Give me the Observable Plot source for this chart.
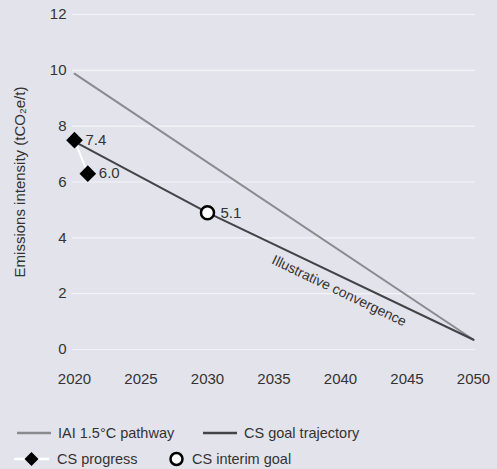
<!DOCTYPE html>
<html><head><meta charset="utf-8">
<script src="https://cdn.jsdelivr.net/npm/d3@7"></script>
<script src="https://cdn.jsdelivr.net/npm/@observablehq/plot@0.6"></script>
<style>
body{margin:0;background:#e3e3eb;font-family:"Liberation Sans",Arial,sans-serif;color:#333;}
#wrap{width:497px;height:469px;background:#e3e3eb;position:relative;}
.leg{position:absolute;font-size:14.5px;color:#333;display:flex;align-items:center;white-space:nowrap;}
.leg svg{margin-right:6px;}
</style></head>
<body><div id="wrap"></div>
<script>
const iaiYears = [2020, 2050];
const iaiValues = [9.88, 0.35];
const goalYears = [2020, 2030, 2050];
const goalValues = [7.45, 4.9, 0.35];
const progressYears = [2020, 2021];
const progressValues = [7.5, 6.3];
const progressLabels = ["7.4", "6.0"];
const interimYears = [2030];
const interimValues = [4.9];
const interimLabels = ["5.1"];
const xTicks = [2020, 2025, 2030, 2035, 2040, 2045, 2050];
const yTicks = [0, 2, 4, 6, 8, 10, 12];

const iai = iaiYears.map((x,i)=>({x, y: iaiValues[i]}));
const goal = goalYears.map((x,i)=>({x, y: goalValues[i]}));
const prog = progressYears.map((x,i)=>({x, y: progressValues[i], t: progressLabels[i]}));
const interim = interimYears.map((x,i)=>({x, y: interimValues[i], t: interimLabels[i]}));
const conv = [{x: 2039.9, y: 2.1, t: "Illustrative convergence"}];

const plot = Plot.plot({
  width: 497, height: 400,
  marginLeft: 72, marginRight: 22, marginTop: 14, marginBottom: 51,
  style: {background: "transparent", fontFamily: "Liberation Sans, Arial, sans-serif", fontSize: "15px", color: "#333"},
  x: {domain: [2019.85, 2050.15], ticks: xTicks, tickFormat: d => String(d), label: null},
  y: {domain: [0, 12], ticks: yTicks},
  marks: [
    Plot.gridY(yTicks, {stroke: "#f4f4f8", strokeOpacity: 1, strokeWidth: 1.2}),
    Plot.axisX(xTicks, {tickSize: 0, tickPadding: 24, fontSize: 15, tickFormat: d => String(d), label: null}),
    Plot.axisY(yTicks, {tickSize: 0, tickPadding: 6, fontSize: 15, label: "Emissions intensity (tCO₂e/t)", labelAnchor: "center", labelArrow: "none", labelOffset: 58}),
    Plot.line(iai, {x: "x", y: "y", stroke: "#8a8a8f", strokeWidth: 2}),
    Plot.line(goal, {x: "x", y: "y", stroke: "#434347", strokeWidth: 2}),
    Plot.line(prog, {x: "x", y: "y", stroke: "#ffffff", strokeWidth: 2}),
    Plot.dot(prog, {x: "x", y: "y", symbol: "diamond2", r: 7.5, fill: "#000"}),
    Plot.dot(interim, {x: "x", y: "y", r: 6.5, fill: "#fff", stroke: "#000", strokeWidth: 2.5}),
    Plot.text(prog, {x: "x", y: "y", text: "t", dx: 11, textAnchor: "start", fontSize: 15, fill: "#333"}),
    Plot.text(interim, {x: "x", y: "y", text: "t", dx: 13, textAnchor: "start", fontSize: 15, fill: "#333"}),
    Plot.text(conv, {x: "x", y: "y", text: "t", rotate: 25.5, fontSize: 14, fill: "#333"})
  ]
});
const wrap = document.getElementById("wrap");
wrap.appendChild(plot);

function addLeg(left, top, swatch, label){
  const d = document.createElement("div");
  d.className = "leg";
  d.style.left = left + "px"; d.style.top = top + "px";
  d.innerHTML = swatch + "<span>" + label + "</span>";
  wrap.appendChild(d);
}
const lineSw = c => `<svg width="36" height="16"><line x1="1" x2="35" y1="8" y2="8" stroke="${c}" stroke-width="2.5"/></svg>`;
addLeg(16, 425, lineSw("#8a8a8f"), "IAI 1.5°C pathway");
addLeg(202, 425, lineSw("#434347"), "CS goal trajectory");
addLeg(13, 451, `<svg width="38" height="16"><line x1="1" x2="36" y1="8" y2="8" stroke="#fff" stroke-width="2.5"/><path d="M18.5,1 L25.5,8 L18.5,15 L11.5,8Z" fill="#000"/></svg>`, "CS progress");
addLeg(168, 451, `<svg width="18" height="16"><circle cx="8.5" cy="8" r="6" fill="#fff" stroke="#000" stroke-width="2.5"/></svg>`, "CS interim goal");
</script></body></html>
